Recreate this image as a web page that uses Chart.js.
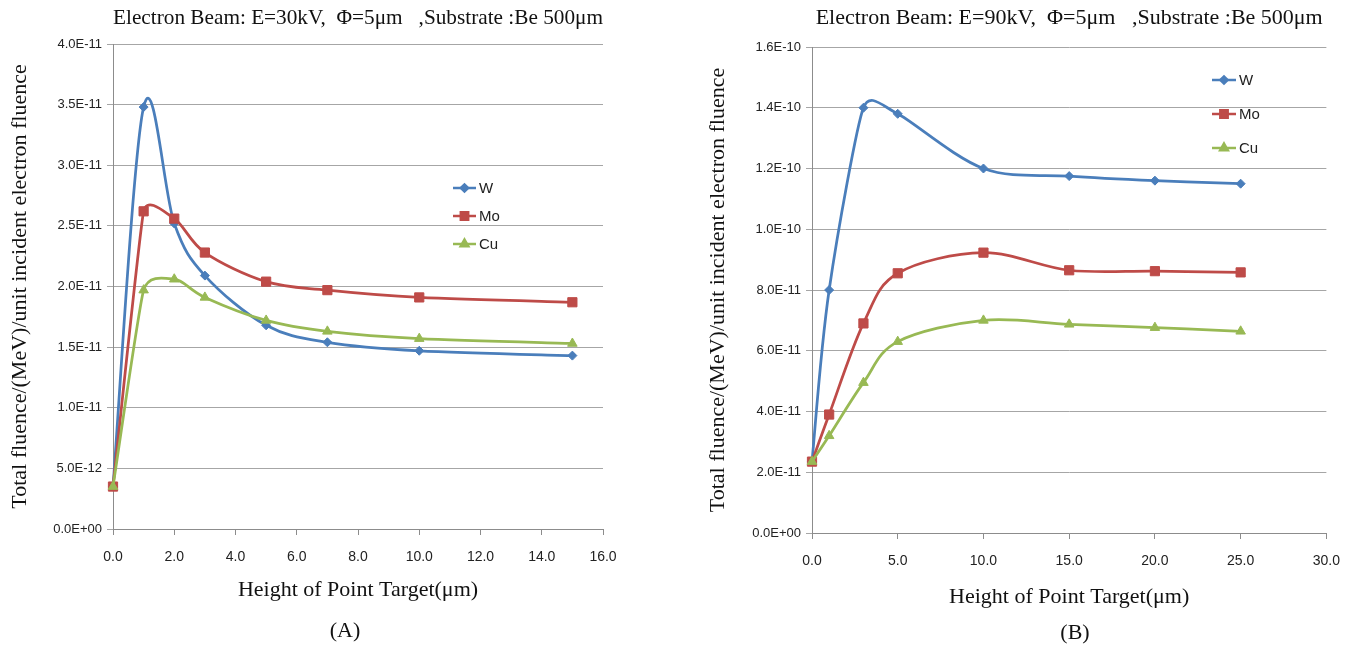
<!DOCTYPE html>
<html>
<head>
<meta charset="utf-8">
<script src="https://cdn.jsdelivr.net/npm/chart.js@4.4.1/dist/chart.umd.min.js"></script>
<style>
  html, body { margin: 0; padding: 0; background: #fff; }
  body { width: 1354px; height: 645px; position: relative; overflow: hidden; }
  .box { position: absolute; top: 0; }
  #boxA { left: 0; }
  #boxB { left: 690px; }
  .cap { position: absolute; font-family: "Liberation Serif", serif; font-size: 22px; color: #111; transform: translateX(-50%); line-height: 26px; }
</style>
</head>
<body>
<div class="box" id="boxA"><canvas id="chartA" width="650" height="645"></canvas></div>
<div class="box" id="boxB"><canvas id="chartB" width="664" height="645"></canvas></div>
<div class="cap" style="left:345px; top:617px;">(A)</div>
<div class="cap" style="left:1075px; top:619px;">(B)</div>
<script>
// --- данные (A): E=30kV
const heightsA = [0, 1, 2, 3, 5, 7, 10, 15];
const wA  = [3.5e-12, 3.48e-11, 2.52e-11, 2.09e-11, 1.68e-11, 1.54e-11, 1.47e-11, 1.43e-11];
const moA = [3.5e-12, 2.62e-11, 2.56e-11, 2.28e-11, 2.04e-11, 1.97e-11, 1.91e-11, 1.87e-11];
const cuA = [3.5e-12, 1.97e-11, 2.06e-11, 1.91e-11, 1.72e-11, 1.63e-11, 1.57e-11, 1.53e-11];
const xTicksA = [0, 2, 4, 6, 8, 10, 12, 14, 16];
const yTicksA = [0, 5e-12, 1e-11, 1.5e-11, 2e-11, 2.5e-11, 3e-11, 3.5e-11, 4e-11];

// --- данные (B): E=90kV
const heightsB = [0, 1, 3, 5, 10, 15, 20, 25];
const wB  = [2.35e-11, 8.0e-11, 1.40e-10, 1.38e-10, 1.20e-10, 1.175e-10, 1.16e-10, 1.15e-10];
const moB = [2.35e-11, 3.9e-11, 6.9e-11, 8.55e-11, 9.23e-11, 8.65e-11, 8.62e-11, 8.58e-11];
const cuB = [2.35e-11, 3.2e-11, 4.95e-11, 6.3e-11, 7.0e-11, 6.87e-11, 6.76e-11, 6.64e-11];
const xTicksB = [0, 5, 10, 15, 20, 25, 30];
const yTicksB = [0, 2e-11, 4e-11, 6e-11, 8e-11, 1e-10, 1.2e-10, 1.4e-10, 1.6e-10];

const seriesNames = ['W', 'Mo', 'Cu'];
const titleA = 'Electron Beam: E=30kV,  \u03A6=5\u03BCm   ,Substrate :Be 500\u03BCm';
const titleB = 'Electron Beam: E=90kV,  \u03A6=5\u03BCm   ,Substrate :Be 500\u03BCm';
const yTitle = 'Total fluence/(MeV)/unit incident electron fluence';
const xTitle = 'Height of Point Target(\u03BCm)';

const COLORS = ['#4A7EBB', '#BE4B48', '#98B954'];
const STYLES = ['rectRot', 'rect', 'triangle'];
const RADII = [4.5, 6.5, 5.5];

function sci(v) {
  const [m, e] = Number(v).toExponential(1).split('e');
  return m + 'E' + e[0] + e.slice(1).padStart(2, '0');
}

// сглаживание как в Excel: касательная (P[i+1]-P[i-1]), длина min(d02/6, d01/2, d12/2)
const excelSmooth = {
  id: 'excelSmooth',
  beforeDatasetsDraw(chart) {
    chart.getSortedVisibleDatasetMetas().forEach((meta) => {
      const pts = meta.data;
      for (let i = 0; i < pts.length; i++) {
        const p = pts[i];
        const prev = pts[i - 1] || p;
        const next = pts[i + 1] || p;
        const len = Math.hypot(next.x - prev.x, next.y - prev.y);
        let m = len / 6;
        if (pts[i - 1]) m = Math.min(m, Math.hypot(p.x - prev.x, p.y - prev.y) / 2);
        if (pts[i + 1]) m = Math.min(m, Math.hypot(next.x - p.x, next.y - p.y) / 2);
        const dx = len ? (next.x - prev.x) / len * m : 0;
        const dy = len ? (next.y - prev.y) / len * m : 0;
        p.cp1x = p.x - dx; p.cp1y = p.y - dy;
        p.cp2x = p.x + dx; p.cp2y = p.y + dy;
      }
      meta.dataset._pointsUpdated = true;
    });
  }
};

// легенда внутри области графика
const legendAt = {
  id: 'legendAt',
  afterDatasetsDraw(chart, args, opts) {
    const ctx = chart.ctx;
    ctx.save();
    chart.data.datasets.forEach((ds, i) => {
      const y = opts.y + i * opts.gap;
      ctx.strokeStyle = ds.borderColor;
      ctx.fillStyle = ds.borderColor;
      ctx.lineWidth = 2.5;
      ctx.beginPath();
      ctx.moveTo(opts.x, y);
      ctx.lineTo(opts.x + opts.len, y);
      ctx.stroke();
      Chart.helpers.drawPoint(ctx, { pointStyle: ds.pointStyle, radius: ds.pointRadius * 0.8, borderWidth: 1, rotation: 0 }, opts.x + opts.len / 2, y);
      ctx.fillStyle = '#222';
      ctx.font = '15px "Liberation Sans", sans-serif';
      ctx.textBaseline = 'middle';
      ctx.fillText(ds.label, opts.x + opts.len + 3, y + 1);
    });
    ctx.restore();
  }
};

function makeChart(canvas, xs, series, xTicks, yTicks, title, g) {
  const datasets = series.map((vals, i) => ({
    label: seriesNames[i],
    data: xs.map((x, j) => ({ x: x, y: vals[j] })),
    borderColor: COLORS[i],
    backgroundColor: COLORS[i],
    borderWidth: 2.75,
    pointStyle: STYLES[i],
    pointRadius: RADII[i],
    pointBorderWidth: 1,
    tension: 0.4,
    clip: false,
    order: 2 - i,
  }));
  return new Chart(canvas, {
    type: 'line',
    data: { datasets },
    options: {
      responsive: false,
      animation: false,
      layout: { padding: { left: 0, right: g.right, top: 0, bottom: 0 } },
      plugins: {
        legend: { display: false },
        tooltip: { enabled: false },
        title: {
          display: true, text: title, fullSize: false, color: '#111',
          font: { family: 'Liberation Serif', size: 22, weight: 'normal' },
          padding: { top: 5, bottom: g.titleBottom },
        },
        legendAt: g.legend,
      },
      scales: {
        x: {
          type: 'linear',
          min: xTicks[0], max: xTicks[xTicks.length - 1],
          afterBuildTicks: (s) => { s.ticks = xTicks.map((v) => ({ value: v })); },
          afterFit: (s) => { s.height = g.xh; },
          grid: { drawOnChartArea: false, drawTicks: true, tickLength: 6, color: '#8c8c8c' },
          border: { color: '#8c8c8c' },
          ticks: {
            callback: (v) => Number(v).toFixed(1), autoSkip: false, maxRotation: 0,
            padding: 14, color: '#222', font: { family: 'Liberation Sans', size: 14 },
          },
          title: {
            display: true, text: xTitle, color: '#111',
            font: { family: 'Liberation Serif', size: 22 },
            padding: { top: 0, bottom: g.xtb },
          },
        },
        y: {
          min: yTicks[0], max: yTicks[yTicks.length - 1],
          afterBuildTicks: (s) => { s.ticks = yTicks.map((v) => ({ value: v })); },
          afterFit: (s) => { s.width = g.yw; },
          grid: { color: '#a6a6a6', tickLength: 6, drawTicks: true },
          border: { color: '#8c8c8c' },
          ticks: {
            callback: (v) => sci(v), padding: 5, color: '#222',
            font: { family: 'Liberation Sans', size: 13 },
          },
          title: {
            display: true, text: yTitle, color: '#111',
            font: { family: 'Liberation Serif', size: 22 },
            padding: { top: g.ytp, bottom: 0 },
          },
        },
      },
    },
    plugins: [excelSmooth, legendAt],
  });
}

makeChart(document.getElementById('chartA'), heightsA, [wA, moA, cuA], xTicksA, yTicksA, titleA, {
  right: 47, titleBottom: 12.6, xh: 116, xtb: 42, yw: 113, ytp: 7,
  legend: { x: 453, y: 188, gap: 28, len: 23 },
});

makeChart(document.getElementById('chartB'), heightsB, [wB, moB, cuB], xTicksB, yTicksB, titleB, {
  right: 27, titleBottom: 15.6, xh: 112, xtb: 35, yw: 122, ytp: 15,
  legend: { x: 522, y: 80, gap: 34, len: 24 },
});
</script>
</body>
</html>
